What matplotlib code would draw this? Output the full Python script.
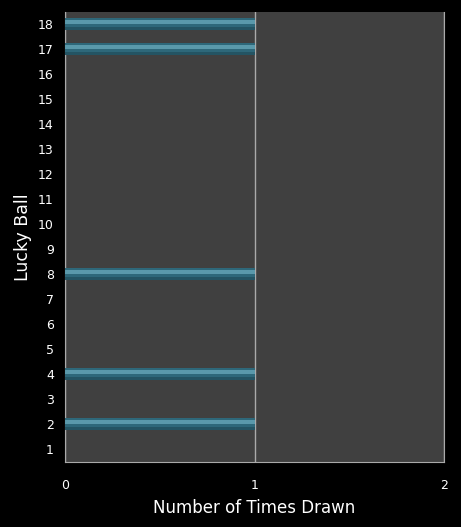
import matplotlib
matplotlib.use("Agg")
import matplotlib.pyplot as plt

balls = list(range(1, 19))
counts = [0, 1, 0, 1, 0, 0, 0, 1, 0, 0, 0, 0, 0, 0, 0, 0, 1, 1]
x_ticks = [0, 1, 2]

fig = plt.figure(figsize=(4.61, 5.27), dpi=100, facecolor="black")
ax = fig.add_axes([65/461, 1 - 462/527, (444-65)/461, (462-12)/527])
ax.set_facecolor("#404040")

ax.barh(balls, counts, height=0.46, color="#2e687a", zorder=3)
ax.barh([b + 0.08 for b in balls], counts, height=0.16, color="#5a99ab", zorder=4)
ax.barh([b - 0.18 for b in balls], counts, height=0.1, color="#245463", zorder=4)

ax.set_xlim(0, 2)
ax.set_ylim(0.48, 18.48)
ax.set_xticks(x_ticks)
ax.set_yticks(balls)
ax.set_yticklabels([str(b) for b in balls])
ax.tick_params(colors="white", labelsize=9, length=0, pad=8)
ax.tick_params(axis="x", pad=12)
ax.xaxis.grid(True, color="#aaaaaa", linewidth=1, zorder=1)
ax.set_axisbelow(True)
ax.spines["top"].set_visible(False)
for s in ["right", "left", "bottom"]:
    ax.spines[s].set_color("#aaaaaa")
ax.set_xlabel("Number of Times Drawn", color="white", fontsize=12, labelpad=5)
ax.set_ylabel("Lucky Ball", color="white", fontsize=12.5, labelpad=4)

fig.savefig("out.png", dpi=100, facecolor="black")
